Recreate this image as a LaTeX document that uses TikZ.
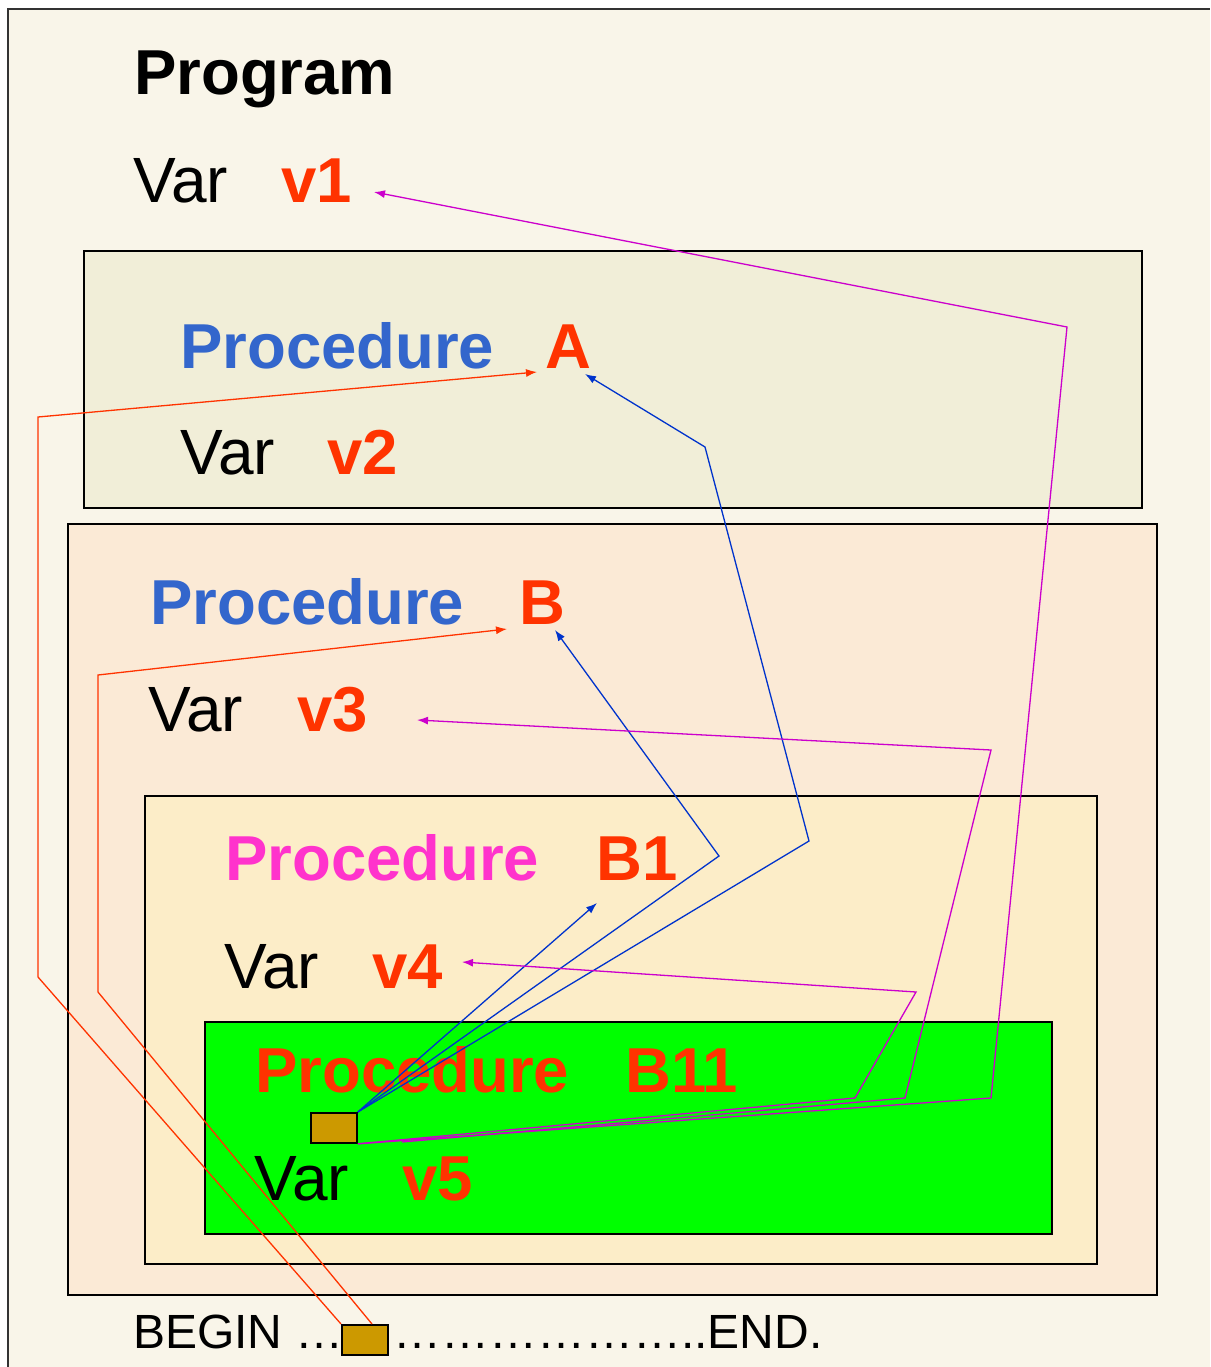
\documentclass[tikz,border=0pt]{standalone}
\usepackage{fontspec}
\setmainfont{Liberation Sans}
\usetikzlibrary{arrows.meta}

\definecolor{progbg}{HTML}{F9F5E9}
\definecolor{procA}{HTML}{F1EED8}
\definecolor{procB}{HTML}{FBEAD6}
\definecolor{procBone}{HTML}{FCEDC8}
\definecolor{procBeleven}{HTML}{00FF00}
\definecolor{callbox}{HTML}{CC9900}
\definecolor{namered}{HTML}{FF3300}
\definecolor{kwblue}{HTML}{3366CC}
\definecolor{kwmagenta}{HTML}{FF33CC}
\definecolor{linkblue}{HTML}{0033CC}
\definecolor{linkmagenta}{HTML}{CC00CC}
\definecolor{framegray}{HTML}{333333}

\tikzset{
  txt/.style={inner sep=0pt, anchor=base west, font=\fontsize{64}{64}\selectfont},
  bold/.style={txt, font=\fontsize{63.5}{64}\selectfont\bfseries},
  scopebox/.style={draw=black, line width=1.8pt},
  callrect/.style={draw=black, line width=1.8pt, fill=callbox, minimum width=46pt, minimum height=30pt, inner sep=0pt},
  link/.style={line width=1.3pt, -{Latex[length=11pt,width=8pt]}},
  redlink/.style={link, draw=namered},
  bluelink/.style={link, draw=linkblue},
  maglink/.style={link, draw=linkmagenta},
}

\begin{document}
\begin{tikzpicture}[x=1pt, y=-1pt]
\useasboundingbox (0,0) rectangle (1210,1367);

% program frame
\fill[progbg] (8,9) rectangle (1210,1367);
\draw[framegray, line width=2pt] (8,1367) -- (8,9) -- (1210,9);

% nested scopes
\draw[scopebox, fill=procA] (84,251) rectangle (1142,508);
\draw[scopebox, fill=procB] (68,524) rectangle (1157,1295);
\draw[scopebox, fill=procBone] (145,796) rectangle (1097,1264);
\draw[scopebox, fill=procBeleven] (205,1022) rectangle (1052,1234);

% program
\node[bold] (prog) at (134,95) {Program};
\node[txt] (var1) at (133,203) {Var};
\node[bold, text=namered] (v1) at (281,203) {v1};

% procedure A
\node[bold, text=kwblue] (procAkw) at (180,368) {Procedure};
\node[bold, text=namered] (nameA) at (545,368) {A};
\node[txt] (var2) at (180,474) {Var};
\node[bold, text=namered] (v2) at (327,474) {v2};

% procedure B
\node[bold, text=kwblue] (procBkw) at (150,624) {Procedure};
\node[bold, text=namered] (nameB) at (519,624) {B};
\node[txt] (var3) at (148,731) {Var};
\node[bold, text=namered] (v3) at (297,731) {v3};

% procedure B1
\node[bold, text=kwmagenta] (procBonekw) at (225,880) {Procedure};
\node[bold, text=namered] (nameBone) at (596,880) {B1};
\node[txt] (var4) at (224,988) {Var};
\node[bold, text=namered] (v4) at (372,988) {v4};

% procedure B11
\node[bold, text=namered] (procBelevenkw) at (255,1092) {Procedure};
\node[bold, text=namered] (nameBeleven) at (625,1092) {B11};
\node[txt] (var5) at (254,1200) {Var};
\node[bold, text=namered] (v5) at (402,1200) {v5};

% main body line
\node[txt, font=\fontsize{48}{48}\selectfont] (begin) at (133,1348) {BEGIN …};
\node[txt, font=\fontsize{48}{48}\selectfont] (endtxt) at (393,1348) {………………..END.};

% call sites
\node[callrect, anchor=north west] (callmain) at (341,1324) {};
\node[callrect, anchor=north west] (callBeleven) at (310,1112) {};

% bend points
\coordinate (ra1) at (38,977);   \coordinate (ra2) at (38,417);   \coordinate (tipA) at (537,372);
\coordinate (rb1) at (98,992);   \coordinate (rb2) at (98,675);   \coordinate (tipB) at (507,629);
\coordinate (bb1) at (719,856);  \coordinate (tipBb) at (555,630);
\coordinate (ba1) at (809,841);  \coordinate (ba2) at (705,447);  \coordinate (tipAb) at (585,374);
\coordinate (tipBone) at (597,903);
\coordinate (m1a) at (991,1098); \coordinate (m1b) at (1067,327); \coordinate (tipv1) at (374,192);
\coordinate (m3a) at (905,1098); \coordinate (m3b) at (991,750);  \coordinate (tipv3) at (417,720);
\coordinate (m4a) at (855,1098); \coordinate (m4b) at (916,992);  \coordinate (tipv4) at (462,962);
\coordinate (m3start) at (402,1142);

% calls from the main body
\draw[redlink] (callmain.north west) -- (ra1) -- (ra2) -- (tipA);
\draw[redlink] ([xshift=31pt]callmain.north west) -- (rb1) -- (rb2) -- (tipB);

% calls from B11
\draw[bluelink] (callBeleven.north east) -- (tipBone);
\draw[bluelink] (callBeleven.north east) -- (bb1) -- (tipBb);
\draw[bluelink] (callBeleven.north east) -- (ba1) -- (ba2) -- (tipAb);

% variable accesses from B11
\draw[maglink] (callBeleven.south east) -- (m1a) -- (m1b) -- (tipv1);
\draw[maglink] (m3start) -- (m3a) -- (m3b) -- (tipv3);
\draw[maglink] (callBeleven.south east) -- (m4a) -- (m4b) -- (tipv4);
\end{tikzpicture}
\end{document}
